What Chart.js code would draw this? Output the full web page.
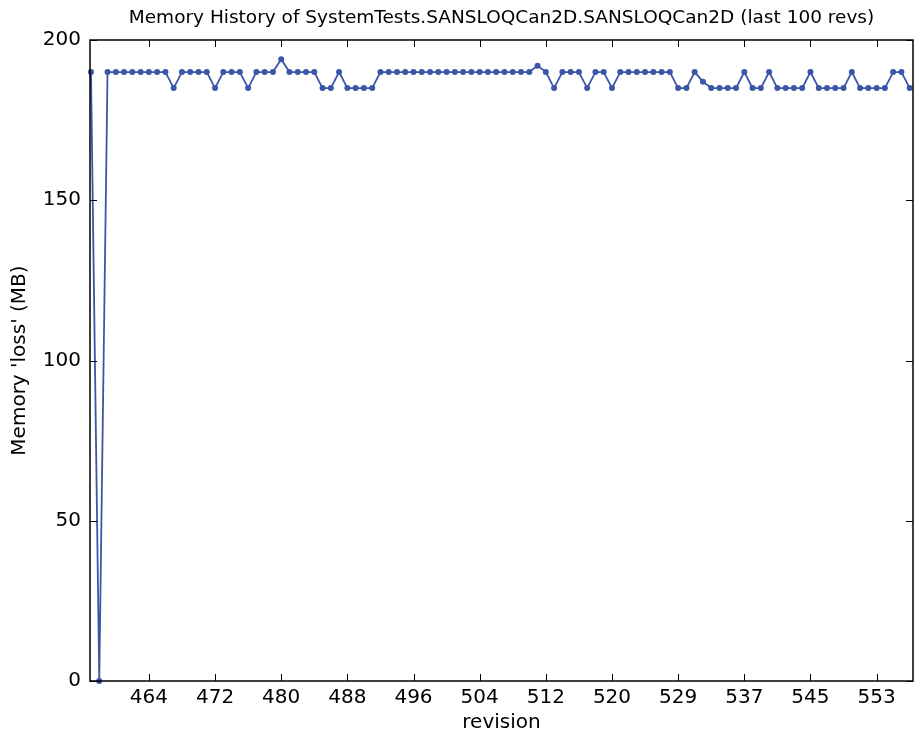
<!DOCTYPE html>
<html>
<head>
<meta charset="utf-8">
<script src="https://cdn.jsdelivr.net/npm/chart.js@4.4.1/dist/chart.umd.min.js"></script>
<style>
  html, body { margin: 0; padding: 0; background: #fff; }
  #mycanvas { display: block; }
</style>
</head>
<body>
<canvas id="mycanvas" width="917" height="735"></canvas>
<script>
// memory values, one per revision (last 100 revs)
var memory = [
  190, 0, 190, 190, 190, 190, 190, 190, 190, 190,
  185, 190, 190, 190, 190, 185, 190, 190, 190, 185,
  190, 190, 190, 194, 190, 190, 190, 190, 185, 185,
  190, 185, 185, 185, 185, 190, 190, 190, 190, 190,
  190, 190, 190, 190, 190, 190, 190, 190, 190, 190,
  190, 190, 190, 190, 192, 190, 185, 190, 190, 190,
  185, 190, 190, 185, 190, 190, 190, 190, 190, 190,
  190, 185, 185, 190, 187, 185, 185, 185, 185, 190,
  185, 185, 190, 185, 185, 185, 185, 190, 185, 185,
  185, 185, 190, 185, 185, 185, 185, 190, 190, 185
];
// revision tick labels and the point index they sit on
var tickIndex = [7, 15, 23, 31, 39, 47, 55, 63, 71, 79, 87, 95];
var tickLabels = ['464', '472', '480', '488', '496', '504', '512', '520', '529', '537', '545', '553'];
var yTicks = [0, 50, 100, 150, 200];
var titleText = 'Memory History of SystemTests.SANSLOQCan2D.SANSLOQCan2D (last 100 revs)';

var lineColor = '#3b56a6';
var font = 'DejaVu Sans';

var points = [];
for (var i = 0; i < memory.length; i++) {
    points.push({x: i, y: memory[i]});
}

// matplotlib style frame with inward ticks, title centred over the axes
var framePlugin = {
    id: 'frame',
    afterDraw: function(chart) {
        var ctx = chart.ctx;
        var a = chart.chartArea;
        var xs = chart.scales.x;
        var ys = chart.scales.y;
        var len = 7;
        ctx.save();
        ctx.strokeStyle = '#000';
        ctx.lineWidth = 1;
        ctx.beginPath();
        for (var i = 0; i < tickIndex.length; i++) {
            var px = Math.round(xs.getPixelForValue(tickIndex[i])) + 0.5;
            ctx.moveTo(px, a.bottom);
            ctx.lineTo(px, a.bottom - len);
            ctx.moveTo(px, a.top);
            ctx.lineTo(px, a.top + len);
        }
        for (var j = 0; j < yTicks.length; j++) {
            var py = Math.round(ys.getPixelForValue(yTicks[j])) + 0.5;
            ctx.moveTo(a.left, py);
            ctx.lineTo(a.left + len, py);
            ctx.moveTo(a.right, py);
            ctx.lineTo(a.right - len, py);
        }
        ctx.stroke();
        ctx.lineWidth = 1.5;
        ctx.strokeRect(a.left, a.top, a.right - a.left, a.bottom - a.top);

        ctx.fillStyle = '#000';
        ctx.font = '18.5px "' + font + '"';
        ctx.textAlign = 'center';
        ctx.textBaseline = 'middle';
        ctx.fillText(titleText, (a.left + a.right) / 2, 18);
        ctx.restore();
    }
};

var ctx = document.getElementById('mycanvas');
var myChart = new Chart(ctx, {
    type: 'line',
    data: {
        datasets: [{
            label: 'memory',
            data: points,
            borderColor: lineColor,
            backgroundColor: lineColor,
            borderWidth: 1.8,
            pointRadius: 3,
            pointBorderWidth: 0,
            pointBackgroundColor: lineColor,
            tension: 0,
            clip: false
        }]
    },
    options: {
        responsive: false,
        animation: false,
        layout: { padding: { left: 0, right: -2, top: 40, bottom: 0 } },
        plugins: {
            legend: { display: false },
            tooltip: { enabled: false },
            title: { display: false }
        },
        scales: {
            x: {
                type: 'linear',
                min: -0.12,
                max: 99.4,
                grid: { display: false, drawTicks: false },
                border: { display: false },
                afterBuildTicks: function(scale) {
                    scale.ticks = tickIndex.map(function(v) { return {value: v}; });
                },
                afterFit: function(scale) { scale.height = 54; },
                ticks: {
                    autoSkip: false,
                    maxRotation: 0,
                    padding: 5,
                    color: '#000',
                    font: { family: font, size: 20 },
                    callback: function(value, index) { return tickLabels[index]; }
                },
                title: {
                    display: true,
                    text: 'revision',
                    color: '#000',
                    font: { family: font, size: 20 },
                    padding: { top: 4, bottom: 0 }
                }
            },
            y: {
                min: 0,
                max: 200,
                grid: { display: false, drawTicks: false },
                border: { display: false },
                afterBuildTicks: function(scale) {
                    scale.ticks = yTicks.map(function(v) { return {value: v}; });
                },
                afterFit: function(scale) { scale.width = 90; },
                ticks: {
                    padding: 9,
                    color: '#000',
                    font: { family: font, size: 20 }
                },
                title: {
                    display: true,
                    text: "Memory 'loss' (MB)",
                    color: '#000',
                    font: { family: font, size: 20 },
                    padding: { top: 8, bottom: 0 }
                }
            }
        }
    },
    plugins: [framePlugin]
});
</script>
</body>
</html>
